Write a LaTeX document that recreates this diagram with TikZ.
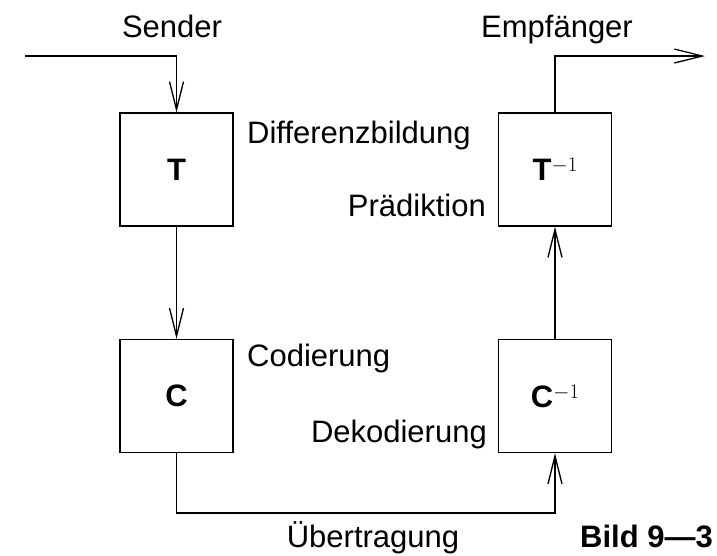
\documentclass[tikz,border=0pt]{standalone}
\usepackage{fontspec}
\setmainfont{Liberation Sans}
\usetikzlibrary{arrows.meta}
\newcommand{\invsup}{\raisebox{9pt}{\fontsize{20}{20}\selectfont$-1$}}
\begin{document}
\begin{tikzpicture}[x=1pt,y=-1pt,
  every node/.style={font=\fontsize{31}{36}\selectfont, inner sep=0pt},
  blk/.style={draw, line width=1.4pt, minimum width=113pt, minimum height=113pt},
  wire/.style={line width=1.4pt, -{Straight Barb[length=28pt,width=14pt,line width=1.3pt]}},
  lbl/.style={anchor=base}]
\useasboundingbox (0,0) rectangle (717,555);
\node[blk] (T) at (176.5,169.5) {\textbf{T}};
\node[blk] (C) at (176.5,396) {\textbf{C}};
\node[blk] (Ti) at (555,169.5) {\textbf{T}\invsup};
\node[blk] (Ci) at (555,396) {\textbf{C}\invsup};
\coordinate (in) at (25,56);
\coordinate (out) at (705,56);
\draw[wire] (in) -| (T.north);
\draw[wire] (T.south) -- (C.north);
\draw[wire] (C.south) |- (366,513) -| (Ci.south);
\draw[wire] (Ci.north) -- (Ti.south);
\draw[wire] (Ti.north) |- (out);
\node[lbl] (snd) at (172,37) {Sender};
\node[lbl] (emp) at (557,37) {Empfänger};
\node[lbl, anchor=base west] (diff) at (247,143) {Differenzbildung};
\node[lbl, anchor=base east] (pred) at (486,216) {Prädiktion};
\node[lbl, anchor=base west] (cod) at (247,366) {Codierung};
\node[lbl, anchor=base east] (dek) at (487,442) {Dekodierung};
\node[lbl] (ueb) at (373,547) {Übertragung};
\node[lbl, anchor=base east] (bild) at (713,547) {\textbf{Bild 9—3}};
\end{tikzpicture}
\end{document}
